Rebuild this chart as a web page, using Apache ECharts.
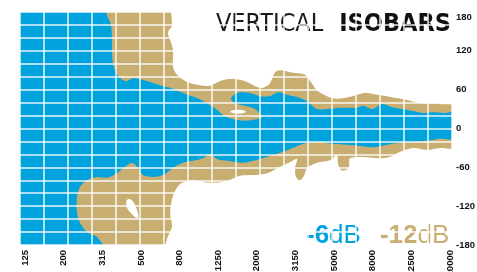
<!DOCTYPE html>
<html>
<head>
<meta charset="utf-8">
<script src="https://cdn.jsdelivr.net/npm/echarts@6/dist/echarts.min.js"></script>
<style>
    html, body { margin: 0; padding: 0; background: #fff; }
    #main { width: 477px; height: 272px; }
</style>
</head>
<body>
<div id="main"></div>
<script>
// 1/3 octave band index (0 = 125 Hz ... 22 = 20000 Hz), labels on every second band
var freqLabels = ['125', '200', '315', '500', '800', '1250', '2000', '3150', '5000', '8000', '12500', '20000'];
var bandTicks = [0, 2, 4, 6, 8, 10, 12, 14, 16, 18, 20, 22];
var angleTicks = [-180, -120, -60, 0, 60, 120, 180];

// isobar outlines, [band index, angle in degrees]
var tanOutline = [
    [-1, 192], [7.3, 192], [7.61, 160], [7.40, 148], [7.51, 137], [7.66, 121], [7.66, 95], [7.87, 83],
    [8.39, 72], [9.06, 67], [9.58, 66], [9.99, 72], [10.46, 76], [10.97, 76], [11.49, 72], [12.01, 64],
    [12.32, 63], [12.68, 70], [12.94, 87], [13.20, 90], [13.87, 86], [14.49, 83], [14.86, 69], [15.11, 59],
    [15.63, 50], [16.15, 46], [16.82, 49], [17.55, 55], [18.06, 53], [18.74, 50], [19.25, 47], [19.77, 44],
    [20.45, 39], [21.48, 38], [22.6, 32],
    [22.6, -29], [21.48, -30], [20.81, -33], [20.08, -30], [19.41, -36], [18.89, -44], [18.37, -46],
    [17.49, -44], [16.82, -46], [16.77, -58], [16.62, -64], [16.36, -64], [16.20, -55], [16.15, -41],
    [15.79, -49], [15.11, -53], [14.60, -61], [14.44, -73], [14.23, -80], [14.03, -75], [13.98, -61],
    [14.08, -47], [13.72, -52], [13.20, -59], [12.53, -69], [11.80, -72], [11.13, -73], [10.46, -81],
    [9.58, -84], [8.70, -80], [8.02, -86], [7.66, -104], [7.51, -131], [7.61, -151], [7.40, -166],
    [7.0, -192], [-1, -192]
];
var blueOutline = [
    [-1, 192], [3.95, 192], [4.30, 171], [4.45, 160], [4.50, 140], [4.50, 121], [4.55, 101], [4.71, 87],
    [4.92, 78], [5.23, 73], [5.59, 78], [5.95, 76], [6.47, 72], [6.99, 67], [7.51, 63], [8.18, 55],
    [8.90, 47], [9.42, 39], [9.94, 29], [10.25, 21], [10.61, 16], [11.39, 12], [12.06, 15], [12.27, 18],
    [11.90, 30], [11.39, 35], [10.87, 39], [10.66, 46], [10.82, 52], [11.13, 56], [11.65, 55], [12.16, 50],
    [12.68, 50], [13.10, 56], [13.56, 52], [14.23, 47], [14.65, 41], [15.11, 30], [15.63, 30], [16.30, 32],
    [17.18, 32], [17.49, 35], [17.96, 30], [18.48, 38], [19.00, 33], [19.57, 30], [20.08, 27], [20.60, 24],
    [21.12, 25], [21.64, 24], [22.6, 24],
    [22.6, -16], [21.48, -16], [20.81, -19], [20.08, -21], [19.41, -22], [18.74, -25], [18.01, -29],
    [17.34, -27], [16.67, -25], [15.94, -24], [15.27, -21], [14.60, -22], [13.87, -30], [13.04, -39],
    [12.16, -47], [11.28, -53], [10.46, -50], [9.94, -47], [9.58, -39], [9.21, -46], [8.70, -50],
    [8.18, -53], [7.66, -61], [7.14, -72], [6.63, -75], [6.11, -72], [5.85, -61], [5.54, -53], [5.18, -59],
    [4.76, -69], [4.24, -76], [3.73, -75], [3.21, -80], [2.85, -90], [2.69, -106], [2.69, -131],
    [2.85, -146], [3.21, -160], [3.73, -168], [4.2, -192], [-1, -192]
];
var tongueHole = [[10.61, 25.8], [10.77, 28.3], [11.03, 28.9], [11.28, 28.3], [11.44, 25.8], [11.28, 23.5], [11.03, 22.9], [10.77, 23.5]];
var blobHole = [[5.23, -115], [5.28, -110], [5.44, -109], [5.64, -115], [5.80, -126], [5.87, -137], [5.75, -138], [5.49, -131], [5.28, -123]];

var blue = '#00a3dc';
var tan = '#c9ae71';
var condensed = "'DejaVu Sans Condensed', 'DejaVu Sans', sans-serif";
var labelFont = "'Liberation Sans', Arial, sans-serif";

function areaSeries(name, shapes, color, z) {
    return {
        name: name,
        type: 'custom',
        coordinateSystem: 'cartesian2d',
        clip: true,
        silent: true,
        z: z,
        data: shapes.map(function (s) { return s[0]; }),
        renderItem: function (params, api) {
            var pts = shapes[params.dataIndex].map(function (p) { return api.coord(p); });
            return {
                type: 'polygon',
                shape: { points: pts, smooth: 0.3 },
                style: { fill: color }
            };
        }
    };
}

var chart = echarts.init(document.getElementById('main'));
chart.setOption({
    animation: false,
    title: {
        text: '{l|VERTICAL}{b|ISOBARS}',
        right: 21,
        top: 7,
        textStyle: {
            fontWeight: 'normal',
            rich: {
                l: { fontFamily: condensed, fontStyle: 'condensed', fontSize: 25, fontWeight: 'normal', color: '#1a1a1a', padding: [0, 16, 0, 0] },
                b: { fontFamily: condensed, fontStyle: 'condensed', fontSize: 25, fontWeight: 'bold', color: '#111' }
            }
        }
    },
    legend: {
        left: 296,
        top: 218,
        icon: 'none',
        itemWidth: 0,
        itemGap: 14,
        selectedMode: false,
        data: ['-6dB', '-12dB'],
        formatter: function (name) {
            return name === '-6dB' ? '{b6|-6}{u6|dB}' : '{b12|-12}{u12|dB}';
        },
        textStyle: {
            rich: {
                b6: { fontFamily: labelFont, fontSize: 26, fontWeight: 'bold', color: blue },
                u6: { fontFamily: labelFont, fontSize: 26, color: blue },
                b12: { fontFamily: labelFont, fontSize: 26, fontWeight: 'bold', color: tan },
                u12: { fontFamily: labelFont, fontSize: 26, color: tan }
            }
        }
    },
    grid: { left: 20, top: 12, width: 432, height: 233, containLabel: false, outerBoundsMode: 'none' },
    xAxis: [{
        type: 'value',
        min: -0.26,
        max: 22.1,
        z: 10,
        axisLine: { show: false },
        axisTick: { show: false },
        splitLine: { show: false },
        axisLabel: {
            customValues: bandTicks,
            rotate: 90,
            margin: 5,
            fontFamily: labelFont,
            fontSize: 9.5,
            fontWeight: 'bold',
            color: '#111',
            formatter: function (v) { return freqLabels[Math.round(v / 2)]; }
        }
    }, {
        type: 'value',
        position: 'top',
        min: 0,
        max: 18,
        interval: 1,
        z: 10,
        axisLine: { show: false },
        axisTick: { show: false },
        axisLabel: { show: false },
        splitLine: { show: true, lineStyle: { color: 'rgba(255,255,255,0.9)', width: 1.5 } }
    }],
    yAxis: {
        type: 'value',
        position: 'right',
        min: -180,
        max: 180,
        interval: 20,
        z: 10,
        axisLine: { show: false },
        axisTick: { show: false },
        splitLine: { show: true, lineStyle: { color: 'rgba(255,255,255,0.9)', width: 1.5 } },
        axisLabel: {
            customValues: angleTicks,
            margin: 4,
            fontFamily: labelFont,
            fontSize: 9.5,
            fontWeight: 'bold',
            color: '#111',
            verticalAlignMaxLabel: 'top'
        }
    },
    series: [
        areaSeries('-12dB', [tanOutline], tan, 1),
        areaSeries('-6dB', [blueOutline], blue, 2),
        areaSeries('holes', [tongueHole, blobHole], '#fff', 3)
    ]
});
</script>
</body>
</html>
